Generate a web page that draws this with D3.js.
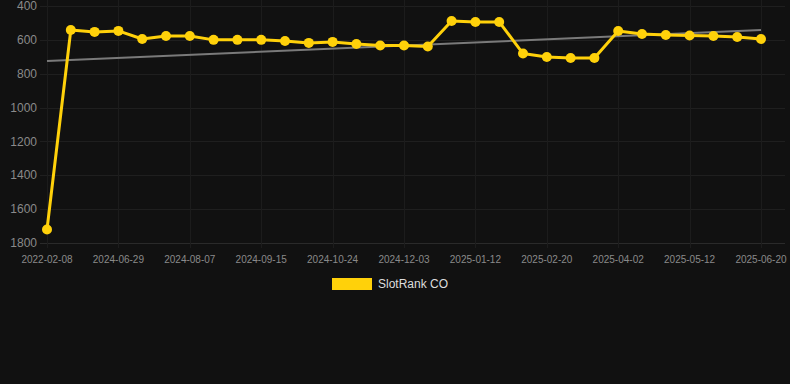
<!DOCTYPE html>
<html>
<head>
<meta charset="utf-8">
<script src="https://cdn.jsdelivr.net/npm/d3@7"></script>
<style>
  html, body { margin: 0; padding: 0; background: #111111; }
  #chart { width: 790px; height: 384px; }
  text { font-family: "Liberation Sans", Arial, sans-serif; }
</style>
</head>
<body>
<div id="chart"></div>
<script>
// dates of each snapshot (x categories)
const dates = [
  "2022-02-08", "2024-06-03", "2024-06-16", "2024-06-29", "2024-07-12", "2024-07-25",
  "2024-08-07", "2024-08-20", "2024-09-02", "2024-09-15", "2024-09-28", "2024-10-11",
  "2024-10-24", "2024-11-06", "2024-11-19", "2024-12-03", "2024-12-16", "2024-12-29",
  "2025-01-12", "2025-01-25", "2025-02-07", "2025-02-20", "2025-03-05", "2025-03-19",
  "2025-04-02", "2025-04-15", "2025-04-28", "2025-05-12", "2025-05-25", "2025-06-07",
  "2025-06-20"
];

// rank values
const ranks = [
  1720, 542, 553, 547, 595, 577, 577, 600, 600, 600, 607, 618,
  612, 624, 633, 633, 639, 489, 494, 494, 681, 701, 707, 707,
  548, 565, 571, 574, 577, 583, 595
];

// trend line end values (first and last date)
const trendValues = [725, 542];

const yTicks = [400, 600, 800, 1000, 1200, 1400, 1600, 1800];
const xTickEvery = 3;
const seriesName = "SlotRank CO";

const W = 790, H = 384;
const margin = { top: 6, right: 29, bottom: 141, left: 47 };
const gridLeft = 40, gridRight = 785;

const svg = d3.select("#chart").append("svg")
  .attr("width", W)
  .attr("height", H);

svg.append("rect").attr("width", W).attr("height", H).attr("fill", "#111111");

const x = d3.scalePoint()
  .domain(dates)
  .range([margin.left, W - margin.right]);

const y = d3.scaleLinear()
  .domain([400, 1800])
  .range([margin.top, H - margin.bottom]);

const xTickDates = dates.filter((d, i) => i % xTickEvery === 0);

// horizontal grid
svg.append("g")
  .selectAll("line")
  .data(yTicks)
  .enter()
  .append("line")
  .attr("x1", gridLeft)
  .attr("x2", gridRight)
  .attr("y1", d => Math.round(y(d)) + 0.5)
  .attr("y2", d => Math.round(y(d)) + 0.5)
  .attr("stroke", d => d === 1800 ? "#2a2a2a" : "#1f1f1f")
  .attr("stroke-width", 1);

// vertical grid
svg.append("g")
  .selectAll("line")
  .data(xTickDates)
  .enter()
  .append("line")
  .attr("x1", d => Math.round(x(d)) + 0.5)
  .attr("x2", d => Math.round(x(d)) + 0.5)
  .attr("y1", 0)
  .attr("y2", y(1800) + 5)
  .attr("stroke", "#1c1c1c")
  .attr("stroke-width", 1);

// y labels
svg.append("g")
  .selectAll("text")
  .data(yTicks)
  .enter()
  .append("text")
  .attr("x", 37)
  .attr("y", d => y(d))
  .attr("dy", "0.35em")
  .attr("text-anchor", "end")
  .attr("fill", "#8a8a8a")
  .style("font-size", "12px")
  .text(d => d);

// x labels
svg.append("g")
  .selectAll("text")
  .data(xTickDates)
  .enter()
  .append("text")
  .attr("x", d => x(d))
  .attr("y", 259)
  .attr("dy", "0.35em")
  .attr("text-anchor", "middle")
  .attr("fill", "#8a8a8a")
  .style("font-size", "10px")
  .text(d => d);

// trend line
svg.append("line")
  .attr("x1", x(dates[0]))
  .attr("x2", x(dates[dates.length - 1]))
  .attr("y1", y(trendValues[0]))
  .attr("y2", y(trendValues[1]))
  .attr("stroke", "#7a7a7a")
  .attr("stroke-width", 2);

// series line
const line = d3.line()
  .x((d, i) => x(dates[i]))
  .y(d => y(d));

svg.append("path")
  .datum(ranks)
  .attr("d", line)
  .attr("fill", "none")
  .attr("stroke", "#FFD10A")
  .attr("stroke-width", 3)
  .attr("stroke-linejoin", "round");

svg.append("g")
  .selectAll("circle")
  .data(ranks)
  .enter()
  .append("circle")
  .attr("cx", (d, i) => x(dates[i]))
  .attr("cy", d => y(d))
  .attr("r", 5)
  .attr("fill", "#FFD10A");

// legend
const legend = svg.append("g");
legend.append("rect")
  .attr("x", 332)
  .attr("y", 278)
  .attr("width", 40)
  .attr("height", 12)
  .attr("fill", "#FFD10A");
legend.append("text")
  .attr("x", 378)
  .attr("y", 284)
  .attr("dy", "0.35em")
  .attr("fill", "#dddddd")
  .style("font-size", "12px")
  .text(seriesName);
</script>
</body>
</html>
